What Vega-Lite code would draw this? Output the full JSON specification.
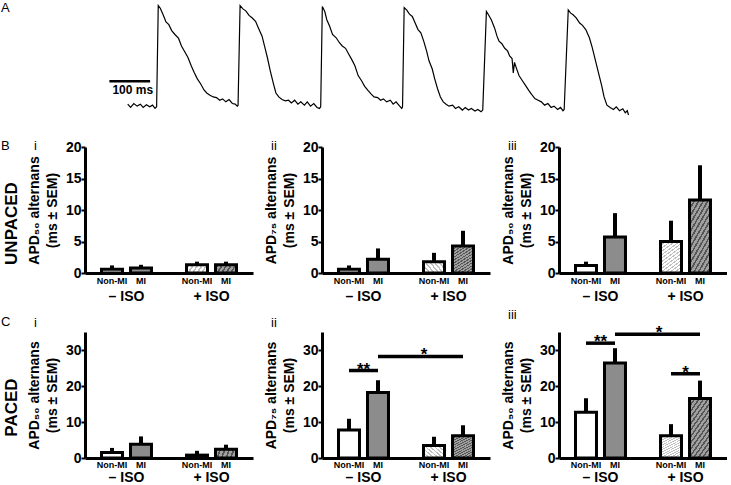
{
  "$schema": "https://vega.github.io/schema/vega-lite/v6.json",
  "usermeta": {"embedOptions": {"actions": false}},
  "padding": {"left": 1, "top": 0, "right": 0, "bottom": 0},
  "background": "white",
  "params": [
    {"name": "hatchLight", "value": {"gradient": "linear", "x1": 0, "y1": 0, "x2": 0.6, "y2": 1.2, "stops": [
      {"offset": 0, "color": "#c0c0c0"}, {"offset": 0.0286, "color": "#c0c0c0"}, {"offset": 0.0286, "color": "#ffffff"}, {"offset": 0.0714, "color": "#ffffff"},
      {"offset": 0.0714, "color": "#c0c0c0"}, {"offset": 0.1, "color": "#c0c0c0"}, {"offset": 0.1, "color": "#ffffff"}, {"offset": 0.1429, "color": "#ffffff"},
      {"offset": 0.1429, "color": "#c0c0c0"}, {"offset": 0.1714, "color": "#c0c0c0"}, {"offset": 0.1714, "color": "#ffffff"}, {"offset": 0.2143, "color": "#ffffff"},
      {"offset": 0.2143, "color": "#c0c0c0"}, {"offset": 0.2429, "color": "#c0c0c0"}, {"offset": 0.2429, "color": "#ffffff"}, {"offset": 0.2857, "color": "#ffffff"},
      {"offset": 0.2857, "color": "#c0c0c0"}, {"offset": 0.3143, "color": "#c0c0c0"}, {"offset": 0.3143, "color": "#ffffff"}, {"offset": 0.3571, "color": "#ffffff"},
      {"offset": 0.3571, "color": "#c0c0c0"}, {"offset": 0.3857, "color": "#c0c0c0"}, {"offset": 0.3857, "color": "#ffffff"}, {"offset": 0.4286, "color": "#ffffff"},
      {"offset": 0.4286, "color": "#c0c0c0"}, {"offset": 0.4571, "color": "#c0c0c0"}, {"offset": 0.4571, "color": "#ffffff"}, {"offset": 0.5, "color": "#ffffff"},
      {"offset": 0.5, "color": "#c0c0c0"}, {"offset": 0.5286, "color": "#c0c0c0"}, {"offset": 0.5286, "color": "#ffffff"}, {"offset": 0.5714, "color": "#ffffff"},
      {"offset": 0.5714, "color": "#c0c0c0"}, {"offset": 0.6, "color": "#c0c0c0"}, {"offset": 0.6, "color": "#ffffff"}, {"offset": 0.6429, "color": "#ffffff"},
      {"offset": 0.6429, "color": "#c0c0c0"}, {"offset": 0.6714, "color": "#c0c0c0"}, {"offset": 0.6714, "color": "#ffffff"}, {"offset": 0.7143, "color": "#ffffff"},
      {"offset": 0.7143, "color": "#c0c0c0"}, {"offset": 0.7429, "color": "#c0c0c0"}, {"offset": 0.7429, "color": "#ffffff"}, {"offset": 0.7857, "color": "#ffffff"},
      {"offset": 0.7857, "color": "#c0c0c0"}, {"offset": 0.8143, "color": "#c0c0c0"}, {"offset": 0.8143, "color": "#ffffff"}, {"offset": 0.8571, "color": "#ffffff"},
      {"offset": 0.8571, "color": "#c0c0c0"}, {"offset": 0.8857, "color": "#c0c0c0"}, {"offset": 0.8857, "color": "#ffffff"}, {"offset": 0.9286, "color": "#ffffff"},
      {"offset": 0.9286, "color": "#c0c0c0"}, {"offset": 0.9571, "color": "#c0c0c0"}, {"offset": 0.9571, "color": "#ffffff"}, {"offset": 1, "color": "#ffffff"}
    ]}},
    {"name": "hatchDark", "value": {"gradient": "linear", "x1": 0, "y1": 0, "x2": 0.6, "y2": 1.2, "stops": [
      {"offset": 0, "color": "#555555"}, {"offset": 0.0286, "color": "#555555"}, {"offset": 0.0286, "color": "#a0a0a0"}, {"offset": 0.0714, "color": "#a0a0a0"},
      {"offset": 0.0714, "color": "#555555"}, {"offset": 0.1, "color": "#555555"}, {"offset": 0.1, "color": "#a0a0a0"}, {"offset": 0.1429, "color": "#a0a0a0"},
      {"offset": 0.1429, "color": "#555555"}, {"offset": 0.1714, "color": "#555555"}, {"offset": 0.1714, "color": "#a0a0a0"}, {"offset": 0.2143, "color": "#a0a0a0"},
      {"offset": 0.2143, "color": "#555555"}, {"offset": 0.2429, "color": "#555555"}, {"offset": 0.2429, "color": "#a0a0a0"}, {"offset": 0.2857, "color": "#a0a0a0"},
      {"offset": 0.2857, "color": "#555555"}, {"offset": 0.3143, "color": "#555555"}, {"offset": 0.3143, "color": "#a0a0a0"}, {"offset": 0.3571, "color": "#a0a0a0"},
      {"offset": 0.3571, "color": "#555555"}, {"offset": 0.3857, "color": "#555555"}, {"offset": 0.3857, "color": "#a0a0a0"}, {"offset": 0.4286, "color": "#a0a0a0"},
      {"offset": 0.4286, "color": "#555555"}, {"offset": 0.4571, "color": "#555555"}, {"offset": 0.4571, "color": "#a0a0a0"}, {"offset": 0.5, "color": "#a0a0a0"},
      {"offset": 0.5, "color": "#555555"}, {"offset": 0.5286, "color": "#555555"}, {"offset": 0.5286, "color": "#a0a0a0"}, {"offset": 0.5714, "color": "#a0a0a0"},
      {"offset": 0.5714, "color": "#555555"}, {"offset": 0.6, "color": "#555555"}, {"offset": 0.6, "color": "#a0a0a0"}, {"offset": 0.6429, "color": "#a0a0a0"},
      {"offset": 0.6429, "color": "#555555"}, {"offset": 0.6714, "color": "#555555"}, {"offset": 0.6714, "color": "#a0a0a0"}, {"offset": 0.7143, "color": "#a0a0a0"},
      {"offset": 0.7143, "color": "#555555"}, {"offset": 0.7429, "color": "#555555"}, {"offset": 0.7429, "color": "#a0a0a0"}, {"offset": 0.7857, "color": "#a0a0a0"},
      {"offset": 0.7857, "color": "#555555"}, {"offset": 0.8143, "color": "#555555"}, {"offset": 0.8143, "color": "#a0a0a0"}, {"offset": 0.8571, "color": "#a0a0a0"},
      {"offset": 0.8571, "color": "#555555"}, {"offset": 0.8857, "color": "#555555"}, {"offset": 0.8857, "color": "#a0a0a0"}, {"offset": 0.9286, "color": "#a0a0a0"},
      {"offset": 0.9286, "color": "#555555"}, {"offset": 0.9571, "color": "#555555"}, {"offset": 0.9571, "color": "#a0a0a0"}, {"offset": 1, "color": "#a0a0a0"}
    ]}}
  ],
  "datasets": {
    "bars": [
      {"panel": "Bi", "iso": "– ISO", "grp": "Non-MI", "mean": 0.6, "upper": 1.2},
      {"panel": "Bi", "iso": "– ISO", "grp": "MI", "mean": 0.8, "upper": 1.3},
      {"panel": "Bi", "iso": "+ ISO", "grp": "Non-MI", "mean": 1.3, "upper": 1.8},
      {"panel": "Bi", "iso": "+ ISO", "grp": "MI", "mean": 1.3, "upper": 1.8},
      {"panel": "Bii", "iso": "– ISO", "grp": "Non-MI", "mean": 0.6, "upper": 1.2},
      {"panel": "Bii", "iso": "– ISO", "grp": "MI", "mean": 2.2, "upper": 3.9},
      {"panel": "Bii", "iso": "+ ISO", "grp": "Non-MI", "mean": 1.8, "upper": 3.2},
      {"panel": "Bii", "iso": "+ ISO", "grp": "MI", "mean": 4.3, "upper": 6.7},
      {"panel": "Biii", "iso": "– ISO", "grp": "Non-MI", "mean": 1.2, "upper": 1.8},
      {"panel": "Biii", "iso": "– ISO", "grp": "MI", "mean": 5.7, "upper": 9.5},
      {"panel": "Biii", "iso": "+ ISO", "grp": "Non-MI", "mean": 5.0, "upper": 8.3},
      {"panel": "Biii", "iso": "+ ISO", "grp": "MI", "mean": 11.6, "upper": 17.1},
      {"panel": "Ci", "iso": "– ISO", "grp": "Non-MI", "mean": 1.5, "upper": 2.8},
      {"panel": "Ci", "iso": "– ISO", "grp": "MI", "mean": 3.8, "upper": 6.0},
      {"panel": "Ci", "iso": "+ ISO", "grp": "Non-MI", "mean": 0.8, "upper": 2.0},
      {"panel": "Ci", "iso": "+ ISO", "grp": "MI", "mean": 2.4, "upper": 3.7},
      {"panel": "Cii", "iso": "– ISO", "grp": "Non-MI", "mean": 7.8, "upper": 10.9},
      {"panel": "Cii", "iso": "– ISO", "grp": "MI", "mean": 18.2, "upper": 21.6},
      {"panel": "Cii", "iso": "+ ISO", "grp": "Non-MI", "mean": 3.5, "upper": 5.9},
      {"panel": "Cii", "iso": "+ ISO", "grp": "MI", "mean": 6.2, "upper": 9.1},
      {"panel": "Ciii", "iso": "– ISO", "grp": "Non-MI", "mean": 12.7, "upper": 16.6},
      {"panel": "Ciii", "iso": "– ISO", "grp": "MI", "mean": 26.4, "upper": 30.5},
      {"panel": "Ciii", "iso": "+ ISO", "grp": "Non-MI", "mean": 6.2, "upper": 9.4},
      {"panel": "Ciii", "iso": "+ ISO", "grp": "MI", "mean": 16.5, "upper": 21.5}
    ],
    "sigLines": [
      {"panel": "Cii", "sid": "a", "iso": "– ISO", "grp": "Non-MI", "y": 24.3},
      {"panel": "Cii", "sid": "a", "iso": "– ISO", "grp": "MI", "y": 24.3},
      {"panel": "Cii", "sid": "b", "iso": "– ISO", "grp": "MI", "y": 28.2},
      {"panel": "Cii", "sid": "b", "iso": "+ ISO", "grp": "MI", "y": 28.2},
      {"panel": "Ciii", "sid": "a", "iso": "– ISO", "grp": "Non-MI", "y": 31.9},
      {"panel": "Ciii", "sid": "a", "iso": "– ISO", "grp": "MI", "y": 31.9},
      {"panel": "Ciii", "sid": "b", "iso": "– ISO", "grp": "MI", "y": 34.4},
      {"panel": "Ciii", "sid": "b", "iso": "+ ISO", "grp": "MI", "y": 34.4},
      {"panel": "Ciii", "sid": "c", "iso": "+ ISO", "grp": "Non-MI", "y": 23.4},
      {"panel": "Ciii", "sid": "c", "iso": "+ ISO", "grp": "MI", "y": 23.4}
    ],
    "sigLabels": [
      {"panel": "Cii", "pos": "center", "iso": "– ISO", "grp": "MI", "y": 24.3, "label": "**"},
      {"panel": "Cii", "pos": "between", "iso": "– ISO", "grp": "MI", "y": 28.2, "label": "*"},
      {"panel": "Ciii", "pos": "center", "iso": "– ISO", "grp": "MI", "y": 31.9, "label": "**"},
      {"panel": "Ciii", "pos": "between", "iso": "– ISO", "grp": "MI", "y": 34.4, "label": "*"},
      {"panel": "Ciii", "pos": "center", "iso": "+ ISO", "grp": "MI", "y": 23.4, "label": "*"}
    ],
    "scalebar": [{"t1": -45, "t2": 55, "v": 103, "label": "100 ms"}],
    "trace": [
      {"t": 0, "v": 33}, {"t": 7, "v": 23}, {"t": 15, "v": 35}, {"t": 23, "v": 27}, {"t": 31, "v": 33}, {"t": 38, "v": 23}, {"t": 46, "v": 31}, {"t": 54, "v": 25}, {"t": 61, "v": 30}, {"t": 67, "v": 20}, {"t": 71, "v": 25}, {"t": 75, "v": 333},
      {"t": 80, "v": 325}, {"t": 87, "v": 305}, {"t": 94, "v": 283}, {"t": 101, "v": 275}, {"t": 108, "v": 257}, {"t": 116, "v": 245}, {"t": 125, "v": 233}, {"t": 132, "v": 210}, {"t": 139, "v": 195}, {"t": 148, "v": 175}, {"t": 156, "v": 150}, {"t": 163, "v": 130}, {"t": 171, "v": 110}, {"t": 179, "v": 95}, {"t": 187, "v": 77}, {"t": 194, "v": 67}, {"t": 202, "v": 60}, {"t": 210, "v": 55}, {"t": 218, "v": 53}, {"t": 226, "v": 45}, {"t": 233, "v": 49}, {"t": 241, "v": 40}, {"t": 249, "v": 47}, {"t": 257, "v": 35}, {"t": 264, "v": 33}, {"t": 269, "v": 27}, {"t": 271, "v": 29}, {"t": 276, "v": 333},
      {"t": 283, "v": 323}, {"t": 290, "v": 317}, {"t": 298, "v": 303}, {"t": 306, "v": 295}, {"t": 314, "v": 285}, {"t": 321, "v": 265}, {"t": 330, "v": 240}, {"t": 337, "v": 205}, {"t": 343, "v": 175}, {"t": 350, "v": 135}, {"t": 358, "v": 95}, {"t": 364, "v": 67}, {"t": 371, "v": 55}, {"t": 379, "v": 47}, {"t": 387, "v": 43}, {"t": 395, "v": 45}, {"t": 402, "v": 37}, {"t": 410, "v": 45}, {"t": 418, "v": 33}, {"t": 425, "v": 40}, {"t": 434, "v": 30}, {"t": 441, "v": 40}, {"t": 449, "v": 27}, {"t": 457, "v": 35}, {"t": 465, "v": 23}, {"t": 471, "v": 20}, {"t": 474, "v": 25}, {"t": 478, "v": 330},
      {"t": 484, "v": 315}, {"t": 489, "v": 290}, {"t": 496, "v": 270}, {"t": 503, "v": 245}, {"t": 512, "v": 235}, {"t": 520, "v": 220}, {"t": 527, "v": 210}, {"t": 535, "v": 203}, {"t": 543, "v": 185}, {"t": 551, "v": 167}, {"t": 558, "v": 150}, {"t": 566, "v": 120}, {"t": 574, "v": 105}, {"t": 582, "v": 87}, {"t": 590, "v": 75}, {"t": 597, "v": 65}, {"t": 605, "v": 55}, {"t": 614, "v": 53}, {"t": 621, "v": 45}, {"t": 628, "v": 49}, {"t": 636, "v": 40}, {"t": 645, "v": 45}, {"t": 652, "v": 33}, {"t": 659, "v": 40}, {"t": 668, "v": 27}, {"t": 673, "v": 20}, {"t": 675, "v": 25}, {"t": 679, "v": 327},
      {"t": 685, "v": 320}, {"t": 692, "v": 307}, {"t": 699, "v": 300}, {"t": 706, "v": 280}, {"t": 713, "v": 260}, {"t": 720, "v": 250}, {"t": 727, "v": 225}, {"t": 734, "v": 195}, {"t": 740, "v": 165}, {"t": 748, "v": 140}, {"t": 754, "v": 110}, {"t": 761, "v": 80}, {"t": 768, "v": 55}, {"t": 775, "v": 40}, {"t": 782, "v": 33}, {"t": 789, "v": 27}, {"t": 798, "v": 30}, {"t": 805, "v": 20}, {"t": 813, "v": 25}, {"t": 822, "v": 15}, {"t": 829, "v": 23}, {"t": 837, "v": 15}, {"t": 844, "v": 20}, {"t": 853, "v": 12}, {"t": 860, "v": 17}, {"t": 868, "v": 10}, {"t": 872, "v": 15}, {"t": 881, "v": 315},
      {"t": 886, "v": 305}, {"t": 893, "v": 290}, {"t": 901, "v": 265}, {"t": 907, "v": 240}, {"t": 912, "v": 225}, {"t": 919, "v": 217}, {"t": 926, "v": 203}, {"t": 933, "v": 195}, {"t": 938, "v": 180}, {"t": 944, "v": 172}, {"t": 947, "v": 128}, {"t": 950, "v": 160}, {"t": 954, "v": 145}, {"t": 961, "v": 120}, {"t": 969, "v": 105}, {"t": 977, "v": 90}, {"t": 985, "v": 75}, {"t": 992, "v": 63}, {"t": 1000, "v": 50}, {"t": 1008, "v": 45}, {"t": 1016, "v": 40}, {"t": 1024, "v": 30}, {"t": 1032, "v": 35}, {"t": 1040, "v": 23}, {"t": 1047, "v": 27}, {"t": 1056, "v": 17}, {"t": 1063, "v": 23}, {"t": 1069, "v": 13}, {"t": 1072, "v": 17}, {"t": 1082, "v": 320},
      {"t": 1088, "v": 310}, {"t": 1094, "v": 305}, {"t": 1102, "v": 295}, {"t": 1110, "v": 280}, {"t": 1117, "v": 273}, {"t": 1125, "v": 260}, {"t": 1134, "v": 235}, {"t": 1141, "v": 205}, {"t": 1148, "v": 170}, {"t": 1156, "v": 130}, {"t": 1164, "v": 90}, {"t": 1170, "v": 55}, {"t": 1177, "v": 30}, {"t": 1185, "v": 23}, {"t": 1193, "v": 17}, {"t": 1200, "v": 25}, {"t": 1208, "v": 13}, {"t": 1216, "v": 19}, {"t": 1222, "v": 7}, {"t": 1227, "v": 13}, {"t": 1230, "v": 0}
    ]
  },
  "spacing": 6,
  "vconcat": [
    {
      "bounds": "flush",
      "spacing": 69,
      "hconcat": [
        {
          "width": 3, "height": 134,
          "title": {"text": "A", "offset": -15, "dx": -14},
          "data": {"values": [{}]},
          "mark": {"type": "point", "opacity": 0, "size": 0},
          "encoding": {}
        },
        {
          "width": 570, "height": 115,
          "layer": [
            {"data": {"name": "trace"}, "mark": {"type": "line", "color": "black", "strokeWidth": 1.2},
             "encoding": {"x": {"field": "t", "type": "quantitative", "scale": {"domain": [-45, 1230]}, "axis": null},
                          "y": {"field": "v", "type": "quantitative", "scale": {"domain": [0, 345]}, "axis": null}}},
            {"data": {"name": "scalebar"}, "mark": {"type": "rule", "color": "black", "strokeWidth": 2.5},
             "encoding": {"x": {"field": "t1", "type": "quantitative"}, "x2": {"field": "t2"}, "y": {"field": "v", "type": "quantitative"}}},
            {"data": {"name": "scalebar"}, "mark": {"type": "text", "fontSize": 12, "fontWeight": "bold", "align": "left", "baseline": "middle", "dx": 3, "dy": 9},
             "encoding": {"x": {"field": "t1", "type": "quantitative"}, "y": {"field": "v", "type": "quantitative"}, "text": {"field": "label"}}}
          ]
        }
      ]
    },
    {
      "bounds": "flush",
      "spacing": 69,
      "hconcat": [
        {
          "width": 1, "height": 152,
          "title": {"text": "B", "offset": -6, "dx": -14},
          "data": {"values": [{}]},
          "mark": {"type": "point", "opacity": 0, "size": 0},
          "encoding": {"y": {"datum": 0, "type": "quantitative", "scale": {"domain": [0, 1]},
            "axis": {"title": "UNPACED", "titleFontSize": 17, "titlePadding": -5, "labels": false, "ticks": false, "domain": false}}}
        },
        {
          "width": 168, "height": 126,
          "title": {"text": "i", "offset": -13, "dx": -51},
          "layer": [
            {"data": {"name": "bars"}, "transform": [{"filter": "datum.panel == 'Bi'"}],
             "mark": {"type": "bar", "stroke": "black", "strokeWidth": 3},
             "encoding": {
               "x": {"field": "iso", "type": "nominal", "sort": ["– ISO", "+ ISO"], "scale": {"paddingInner": 0.412, "paddingOuter": 0.194}, "axis": {"title": null, "labelPadding": 16}},
               "xOffset": {"field": "grp", "type": "nominal", "sort": ["Non-MI", "MI"], "scale": {"paddingInner": 0.276, "paddingOuter": 0}},
               "y": {"field": "mean", "type": "quantitative", "scale": {"domain": [0, 20]}, "axis": {"values": [0, 5, 10, 15, 20], "tickCount": 5, "labelOverlap": false, "title": ["APD₅₀ alternans", "(ms ± SEM)"]}},
               "fill": {"condition": [{"test": "datum.iso == '+ ISO' && datum.grp == 'MI'", "value": {"expr": "hatchDark"}}, {"test": "datum.iso == '+ ISO'", "value": {"expr": "hatchLight"}}, {"test": "datum.grp == 'MI'", "value": "#8c8c8c"}], "value": "white"}
             }},
            {"data": {"name": "bars"}, "transform": [{"filter": "datum.panel == 'Bi'"}],
             "mark": {"type": "rule", "color": "black", "strokeWidth": 4},
             "encoding": {
               "x": {"field": "iso", "type": "nominal", "sort": ["– ISO", "+ ISO"]},
               "xOffset": {"field": "grp", "type": "nominal", "sort": ["Non-MI", "MI"]},
               "y": {"field": "mean", "type": "quantitative", "axis": {"values": [0, 5, 10, 15, 20], "tickCount": 5, "labelOverlap": false, "title": ["APD₅₀ alternans", "(ms ± SEM)"]}}, "y2": {"field": "upper"}
             }},
            {"data": {"name": "bars"}, "transform": [{"filter": "datum.panel == 'Bi'"}],
             "mark": {"type": "text", "baseline": "top", "dy": 4, "fontSize": 9, "fontWeight": "bold", "font": "Liberation Sans Narrow, Liberation Sans"},
             "encoding": {
               "x": {"field": "iso", "type": "nominal", "sort": ["– ISO", "+ ISO"]},
               "xOffset": {"field": "grp", "type": "nominal", "sort": ["Non-MI", "MI"]},
               "y": {"datum": 0, "type": "quantitative", "axis": {"values": [0, 5, 10, 15, 20], "tickCount": 5, "labelOverlap": false, "title": ["APD₅₀ alternans", "(ms ± SEM)"]}}, "text": {"field": "grp"}
             }}
          ]
        },
        {
          "width": 168, "height": 126,
          "title": {"text": "ii", "offset": -13, "dx": -51},
          "layer": [
            {"data": {"name": "bars"}, "transform": [{"filter": "datum.panel == 'Bii'"}],
             "mark": {"type": "bar", "stroke": "black", "strokeWidth": 3},
             "encoding": {
               "x": {"field": "iso", "type": "nominal", "sort": ["– ISO", "+ ISO"], "scale": {"paddingInner": 0.412, "paddingOuter": 0.194}, "axis": {"title": null, "labelPadding": 16}},
               "xOffset": {"field": "grp", "type": "nominal", "sort": ["Non-MI", "MI"], "scale": {"paddingInner": 0.276, "paddingOuter": 0}},
               "y": {"field": "mean", "type": "quantitative", "scale": {"domain": [0, 20]}, "axis": {"values": [0, 5, 10, 15, 20], "tickCount": 5, "labelOverlap": false, "title": ["APD₇₅ alternans", "(ms ± SEM)"]}},
               "fill": {"condition": [{"test": "datum.iso == '+ ISO' && datum.grp == 'MI'", "value": {"expr": "hatchDark"}}, {"test": "datum.iso == '+ ISO'", "value": {"expr": "hatchLight"}}, {"test": "datum.grp == 'MI'", "value": "#8c8c8c"}], "value": "white"}
             }},
            {"data": {"name": "bars"}, "transform": [{"filter": "datum.panel == 'Bii'"}],
             "mark": {"type": "rule", "color": "black", "strokeWidth": 4},
             "encoding": {
               "x": {"field": "iso", "type": "nominal", "sort": ["– ISO", "+ ISO"]},
               "xOffset": {"field": "grp", "type": "nominal", "sort": ["Non-MI", "MI"]},
               "y": {"field": "mean", "type": "quantitative", "axis": {"values": [0, 5, 10, 15, 20], "tickCount": 5, "labelOverlap": false, "title": ["APD₇₅ alternans", "(ms ± SEM)"]}}, "y2": {"field": "upper"}
             }},
            {"data": {"name": "bars"}, "transform": [{"filter": "datum.panel == 'Bii'"}],
             "mark": {"type": "text", "baseline": "top", "dy": 4, "fontSize": 9, "fontWeight": "bold", "font": "Liberation Sans Narrow, Liberation Sans"},
             "encoding": {
               "x": {"field": "iso", "type": "nominal", "sort": ["– ISO", "+ ISO"]},
               "xOffset": {"field": "grp", "type": "nominal", "sort": ["Non-MI", "MI"]},
               "y": {"datum": 0, "type": "quantitative", "axis": {"values": [0, 5, 10, 15, 20], "tickCount": 5, "labelOverlap": false, "title": ["APD₇₅ alternans", "(ms ± SEM)"]}}, "text": {"field": "grp"}
             }}
          ]
        },
        {
          "width": 168, "height": 126,
          "title": {"text": "iii", "offset": -13, "dx": -51},
          "layer": [
            {"data": {"name": "bars"}, "transform": [{"filter": "datum.panel == 'Biii'"}],
             "mark": {"type": "bar", "stroke": "black", "strokeWidth": 3},
             "encoding": {
               "x": {"field": "iso", "type": "nominal", "sort": ["– ISO", "+ ISO"], "scale": {"paddingInner": 0.412, "paddingOuter": 0.194}, "axis": {"title": null, "labelPadding": 16}},
               "xOffset": {"field": "grp", "type": "nominal", "sort": ["Non-MI", "MI"], "scale": {"paddingInner": 0.276, "paddingOuter": 0}},
               "y": {"field": "mean", "type": "quantitative", "scale": {"domain": [0, 20]}, "axis": {"values": [0, 5, 10, 15, 20], "tickCount": 5, "labelOverlap": false, "title": ["APD₉₀ alternans", "(ms ± SEM)"]}},
               "fill": {"condition": [{"test": "datum.iso == '+ ISO' && datum.grp == 'MI'", "value": {"expr": "hatchDark"}}, {"test": "datum.iso == '+ ISO'", "value": {"expr": "hatchLight"}}, {"test": "datum.grp == 'MI'", "value": "#8c8c8c"}], "value": "white"}
             }},
            {"data": {"name": "bars"}, "transform": [{"filter": "datum.panel == 'Biii'"}],
             "mark": {"type": "rule", "color": "black", "strokeWidth": 4},
             "encoding": {
               "x": {"field": "iso", "type": "nominal", "sort": ["– ISO", "+ ISO"]},
               "xOffset": {"field": "grp", "type": "nominal", "sort": ["Non-MI", "MI"]},
               "y": {"field": "mean", "type": "quantitative", "axis": {"values": [0, 5, 10, 15, 20], "tickCount": 5, "labelOverlap": false, "title": ["APD₉₀ alternans", "(ms ± SEM)"]}}, "y2": {"field": "upper"}
             }},
            {"data": {"name": "bars"}, "transform": [{"filter": "datum.panel == 'Biii'"}],
             "mark": {"type": "text", "baseline": "top", "dy": 4, "fontSize": 9, "fontWeight": "bold", "font": "Liberation Sans Narrow, Liberation Sans"},
             "encoding": {
               "x": {"field": "iso", "type": "nominal", "sort": ["– ISO", "+ ISO"]},
               "xOffset": {"field": "grp", "type": "nominal", "sort": ["Non-MI", "MI"]},
               "y": {"datum": 0, "type": "quantitative", "axis": {"values": [0, 5, 10, 15, 20], "tickCount": 5, "labelOverlap": false, "title": ["APD₉₀ alternans", "(ms ± SEM)"]}}, "text": {"field": "grp"}
             }}
          ]
        }
      ]
    },
    {
      "bounds": "flush",
      "spacing": 69,
      "hconcat": [
        {
          "width": 1, "height": 150,
          "title": {"text": "C", "offset": 3, "dx": -14},
          "data": {"values": [{}]},
          "mark": {"type": "point", "opacity": 0, "size": 0},
          "encoding": {"y": {"datum": 0, "type": "quantitative", "scale": {"domain": [0, 1]},
            "axis": {"title": "PACED", "titleFontSize": 17, "titlePadding": -5, "labels": false, "ticks": false, "domain": false}}}
        },
        {
          "width": 168, "height": 126,
          "title": {"text": "i", "offset": 2, "dx": -51},
          "layer": [
            {"data": {"name": "bars"}, "transform": [{"filter": "datum.panel == 'Ci'"}],
             "mark": {"type": "bar", "stroke": "black", "strokeWidth": 3},
             "encoding": {
               "x": {"field": "iso", "type": "nominal", "sort": ["– ISO", "+ ISO"], "scale": {"paddingInner": 0.412, "paddingOuter": 0.194}, "axis": {"title": null, "labelPadding": 12}},
               "xOffset": {"field": "grp", "type": "nominal", "sort": ["Non-MI", "MI"], "scale": {"paddingInner": 0.276, "paddingOuter": 0}},
               "y": {"field": "mean", "type": "quantitative", "scale": {"domain": [0, 35]}, "axis": {"values": [0, 10, 20, 30], "labelOverlap": false, "title": ["APD₅₀ alternans", "(ms ± SEM)"]}},
               "fill": {"condition": [{"test": "datum.iso == '+ ISO' && datum.grp == 'MI'", "value": {"expr": "hatchDark"}}, {"test": "datum.iso == '+ ISO'", "value": {"expr": "hatchLight"}}, {"test": "datum.grp == 'MI'", "value": "#8c8c8c"}], "value": "white"}
             }},
            {"data": {"name": "bars"}, "transform": [{"filter": "datum.panel == 'Ci'"}],
             "mark": {"type": "rule", "color": "black", "strokeWidth": 4},
             "encoding": {
               "x": {"field": "iso", "type": "nominal", "sort": ["– ISO", "+ ISO"]},
               "xOffset": {"field": "grp", "type": "nominal", "sort": ["Non-MI", "MI"]},
               "y": {"field": "mean", "type": "quantitative"}, "y2": {"field": "upper"}
             }},
            {"data": {"name": "bars"}, "transform": [{"filter": "datum.panel == 'Ci'"}],
             "mark": {"type": "text", "baseline": "top", "dy": 3, "fontSize": 9, "fontWeight": "bold", "font": "Liberation Sans Narrow, Liberation Sans"},
             "encoding": {
               "x": {"field": "iso", "type": "nominal", "sort": ["– ISO", "+ ISO"]},
               "xOffset": {"field": "grp", "type": "nominal", "sort": ["Non-MI", "MI"]},
               "y": {"datum": 0, "type": "quantitative"}, "text": {"field": "grp"}
             }}
          ]
        },
        {
          "width": 168, "height": 126,
          "title": {"text": "ii", "offset": 2, "dx": -51},
          "layer": [
            {"data": {"name": "bars"}, "transform": [{"filter": "datum.panel == 'Cii'"}],
             "mark": {"type": "bar", "stroke": "black", "strokeWidth": 3},
             "encoding": {
               "x": {"field": "iso", "type": "nominal", "sort": ["– ISO", "+ ISO"], "scale": {"paddingInner": 0.412, "paddingOuter": 0.194}, "axis": {"title": null, "labelPadding": 12}},
               "xOffset": {"field": "grp", "type": "nominal", "sort": ["Non-MI", "MI"], "scale": {"paddingInner": 0.276, "paddingOuter": 0}},
               "y": {"field": "mean", "type": "quantitative", "scale": {"domain": [0, 35]}, "axis": {"values": [0, 10, 20, 30], "labelOverlap": false, "title": ["APD₇₅ alternans", "(ms ± SEM)"]}},
               "fill": {"condition": [{"test": "datum.iso == '+ ISO' && datum.grp == 'MI'", "value": {"expr": "hatchDark"}}, {"test": "datum.iso == '+ ISO'", "value": {"expr": "hatchLight"}}, {"test": "datum.grp == 'MI'", "value": "#8c8c8c"}], "value": "white"}
             }},
            {"data": {"name": "bars"}, "transform": [{"filter": "datum.panel == 'Cii'"}],
             "mark": {"type": "rule", "color": "black", "strokeWidth": 4},
             "encoding": {
               "x": {"field": "iso", "type": "nominal", "sort": ["– ISO", "+ ISO"]},
               "xOffset": {"field": "grp", "type": "nominal", "sort": ["Non-MI", "MI"]},
               "y": {"field": "mean", "type": "quantitative"}, "y2": {"field": "upper"}
             }},
            {"data": {"name": "bars"}, "transform": [{"filter": "datum.panel == 'Cii'"}],
             "mark": {"type": "text", "baseline": "top", "dy": 3, "fontSize": 9, "fontWeight": "bold", "font": "Liberation Sans Narrow, Liberation Sans"},
             "encoding": {
               "x": {"field": "iso", "type": "nominal", "sort": ["– ISO", "+ ISO"]},
               "xOffset": {"field": "grp", "type": "nominal", "sort": ["Non-MI", "MI"]},
               "y": {"datum": 0, "type": "quantitative"}, "text": {"field": "grp"}
             }},
            {"data": {"name": "sigLines"}, "transform": [{"filter": "datum.panel == 'Cii'"}],
             "mark": {"type": "line", "color": "black", "strokeWidth": 3.5, "strokeCap": "butt"},
             "encoding": {
               "x": {"field": "iso", "type": "nominal", "sort": ["– ISO", "+ ISO"]},
               "xOffset": {"field": "grp", "type": "nominal", "sort": ["Non-MI", "MI"]},
               "y": {"field": "y", "type": "quantitative"}, "detail": {"field": "sid"}
             }},
            {"data": {"name": "sigLabels"}, "transform": [{"filter": "datum.panel == 'Cii' && datum.pos == 'center'"}],
             "mark": {"type": "text", "fontSize": 17, "fontWeight": "bold", "baseline": "alphabetic", "dy": 4},
             "encoding": {
               "x": {"field": "iso", "type": "nominal", "sort": ["– ISO", "+ ISO"]},
               "y": {"field": "y", "type": "quantitative"}, "text": {"field": "label"}
             }},
            {"data": {"name": "sigLabels"}, "transform": [{"filter": "datum.panel == 'Cii' && datum.pos == 'between'"}],
             "mark": {"type": "text", "fontSize": 17, "fontWeight": "bold", "baseline": "alphabetic", "dy": 4, "dx": 46},
             "encoding": {
               "x": {"field": "iso", "type": "nominal", "sort": ["– ISO", "+ ISO"]},
               "xOffset": {"field": "grp", "type": "nominal", "sort": ["Non-MI", "MI"]},
               "y": {"field": "y", "type": "quantitative"}, "text": {"field": "label"}
             }}
          ]
        },
        {
          "width": 168, "height": 126,
          "title": {"text": "iii", "offset": 2, "dx": -51},
          "layer": [
            {"data": {"name": "bars"}, "transform": [{"filter": "datum.panel == 'Ciii'"}],
             "mark": {"type": "bar", "stroke": "black", "strokeWidth": 3},
             "encoding": {
               "x": {"field": "iso", "type": "nominal", "sort": ["– ISO", "+ ISO"], "scale": {"paddingInner": 0.412, "paddingOuter": 0.194}, "axis": {"title": null, "labelPadding": 12}},
               "xOffset": {"field": "grp", "type": "nominal", "sort": ["Non-MI", "MI"], "scale": {"paddingInner": 0.276, "paddingOuter": 0}},
               "y": {"field": "mean", "type": "quantitative", "scale": {"domain": [0, 35]}, "axis": {"values": [0, 10, 20, 30], "labelOverlap": false, "title": ["APD₉₀ alternans", "(ms ± SEM)"]}},
               "fill": {"condition": [{"test": "datum.iso == '+ ISO' && datum.grp == 'MI'", "value": {"expr": "hatchDark"}}, {"test": "datum.iso == '+ ISO'", "value": {"expr": "hatchLight"}}, {"test": "datum.grp == 'MI'", "value": "#8c8c8c"}], "value": "white"}
             }},
            {"data": {"name": "bars"}, "transform": [{"filter": "datum.panel == 'Ciii'"}],
             "mark": {"type": "rule", "color": "black", "strokeWidth": 4},
             "encoding": {
               "x": {"field": "iso", "type": "nominal", "sort": ["– ISO", "+ ISO"]},
               "xOffset": {"field": "grp", "type": "nominal", "sort": ["Non-MI", "MI"]},
               "y": {"field": "mean", "type": "quantitative"}, "y2": {"field": "upper"}
             }},
            {"data": {"name": "bars"}, "transform": [{"filter": "datum.panel == 'Ciii'"}],
             "mark": {"type": "text", "baseline": "top", "dy": 3, "fontSize": 9, "fontWeight": "bold", "font": "Liberation Sans Narrow, Liberation Sans"},
             "encoding": {
               "x": {"field": "iso", "type": "nominal", "sort": ["– ISO", "+ ISO"]},
               "xOffset": {"field": "grp", "type": "nominal", "sort": ["Non-MI", "MI"]},
               "y": {"datum": 0, "type": "quantitative"}, "text": {"field": "grp"}
             }},
            {"data": {"name": "sigLines"}, "transform": [{"filter": "datum.panel == 'Ciii'"}],
             "mark": {"type": "line", "color": "black", "strokeWidth": 3.5, "strokeCap": "butt"},
             "encoding": {
               "x": {"field": "iso", "type": "nominal", "sort": ["– ISO", "+ ISO"]},
               "xOffset": {"field": "grp", "type": "nominal", "sort": ["Non-MI", "MI"]},
               "y": {"field": "y", "type": "quantitative"}, "detail": {"field": "sid"}
             }},
            {"data": {"name": "sigLabels"}, "transform": [{"filter": "datum.panel == 'Ciii' && datum.pos == 'center'"}],
             "mark": {"type": "text", "fontSize": 17, "fontWeight": "bold", "baseline": "alphabetic", "dy": 4},
             "encoding": {
               "x": {"field": "iso", "type": "nominal", "sort": ["– ISO", "+ ISO"]},
               "y": {"field": "y", "type": "quantitative"}, "text": {"field": "label"}
             }},
            {"data": {"name": "sigLabels"}, "transform": [{"filter": "datum.panel == 'Ciii' && datum.pos == 'between'"}],
             "mark": {"type": "text", "fontSize": 17, "fontWeight": "bold", "baseline": "alphabetic", "dy": 4, "dx": 44},
             "encoding": {
               "x": {"field": "iso", "type": "nominal", "sort": ["– ISO", "+ ISO"]},
               "xOffset": {"field": "grp", "type": "nominal", "sort": ["Non-MI", "MI"]},
               "y": {"field": "y", "type": "quantitative"}, "text": {"field": "label"}
             }}
          ]
        }
      ]
    }
  ],
  "config": {
    "font": "Liberation Sans",
    "view": {"stroke": null},
    "title": {"fontSize": 13, "fontWeight": "normal", "color": "black", "anchor": "start", "frame": "group"},
    "axis": {"domainColor": "black", "domainWidth": 3, "labelColor": "black", "labelFontWeight": "bold", "labelFontSize": 14, "labelFont": "Liberation Sans", "titleFont": "Liberation Sans", "titleColor": "black", "titleFontWeight": "bold", "grid": false, "tickColor": "black"},
    "axisY": {"tickSize": 4, "tickWidth": 2, "labelPadding": 0, "labelOverlap": false, "titleFontSize": 14, "titleLineHeight": 18, "titlePadding": 6},
    "axisX": {"ticks": false, "tickSize": 0, "labelAngle": 0}
  }
}
